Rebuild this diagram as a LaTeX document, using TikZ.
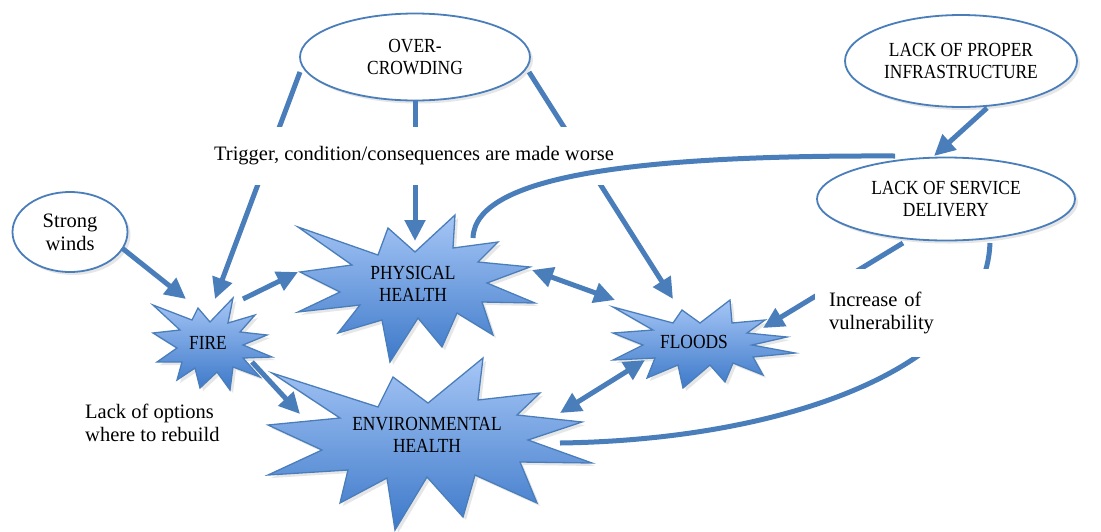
\documentclass[tikz,border=0pt]{standalone}
\usepackage{fontspec}
\setmainfont{Liberation Serif}
\newfontfamily\capsfont[FakeStretch=0.87]{Liberation Serif}
\usetikzlibrary{arrows.meta,shapes.geometric,shadows}

\definecolor{linkblue}{HTML}{4A7EBB}
\definecolor{burstlight}{HTML}{A6C6F6}
\definecolor{burstdark}{HTML}{3D79C9}

\tikzset{
  link/.style={draw=linkblue, line width=5pt},
  arrow/.style={link, -{Triangle[length=21pt,width=20pt]}},
  twoway/.style={link, {Triangle[length=21pt,width=20pt]}-{Triangle[length=21pt,width=20pt]}},
  softshadow/.style={drop shadow={opacity=0.2, shadow xshift=3pt, shadow yshift=-3pt}},
  cloud/.style={ellipse, draw=linkblue, line width=1.8pt, fill=white, softshadow,
                align=center, inner sep=0pt},
  capsfont/.style={font=\capsfont\fontsize{20}{22.5}\selectfont},
  burst/.style={draw=linkblue, line width=1.3pt, line join=miter,
                top color=burstlight, bottom color=burstdark, softshadow},
  caption/.style={align=center, inner sep=0pt, capsfont},
  note/.style={fill=white, inner sep=0pt}
}

\begin{document}
\begin{tikzpicture}[x=1pt, y=-1pt, font=\fontsize{20.5}{23}\selectfont]
  \useasboundingbox (0,0) rectangle (1101,531);

  % ---- bursts ----
  \path[burst] (298,227) -- (378,255) -- (388,228) -- (415,252) -- (455,215) -- (453,248)
     -- (498,242) -- (478,262) -- (530,267) -- (487,283) -- (535,303) -- (482,302)
     -- (493,335) -- (457,313) -- (442,347) -- (418,318) -- (390,362) -- (382,320)
     -- (338,333) -- (360,305) -- (298,312) -- (340,292) -- (300,272) -- (352,265) -- cycle;
  \path[burst] (272,373) -- (378,407) -- (393,377) -- (428,403) -- (483,358) -- (478,400)
     -- (540,393) -- (517,415) -- (582,422) -- (528,440) -- (592,463) -- (520,462)
     -- (537,503) -- (475,475) -- (463,517) -- (427,477) -- (395,530) -- (387,478)
     -- (340,503) -- (348,470) -- (268,475) -- (322,450) -- (268,425) -- (340,418) -- cycle;
  \path[burst] (153,305) -- (192,320) -- (198,308) -- (210,322) -- (233,298) -- (228,323)
     -- (255,315) -- (240,332) -- (267,335) -- (243,345) -- (272,357) -- (243,358)
     -- (260,377) -- (233,367) -- (230,390) -- (217,372) -- (200,388) -- (195,368)
     -- (177,380) -- (182,362) -- (157,362) -- (177,348) -- (153,333) -- (180,330) -- cycle;
  \path[burst] (613,307) -- (673,323) -- (682,310) -- (700,323) -- (730,300) -- (732,323)
     -- (765,320) -- (747,333) -- (787,337) -- (752,345) -- (795,353) -- (753,357)
     -- (763,375) -- (733,363) -- (725,382) -- (710,365) -- (683,388) -- (678,365)
     -- (647,378) -- (655,358) -- (613,360) -- (643,345) -- (613,333) -- (653,330) -- cycle;

  \node[caption] (fire)   at (208,343) {FIRE};
  \node[caption] (phys)   at (413,284) {PHYSICAL\\HEALTH};
  \node[caption] (env)    at (427,435) {ENVIRONMENTAL\\HEALTH};
  \node[caption] (floods) at (694,342) {FLOODS};

  % ---- ellipses ----
  \node[cloud, capsfont, minimum width=230pt, minimum height=87pt] (over)    at (415,57)  {OVER-\\CROWDING};
  \node[cloud, capsfont, minimum width=232pt, minimum height=92pt] (infra)   at (961,61)  {LACK OF PROPER\\INFRASTRUCTURE};
  \node[cloud, capsfont, minimum width=258pt, minimum height=83pt] (service) at (946,199) {LACK OF SERVICE\\DELIVERY};
  \node[cloud, minimum width=115pt, minimum height=80pt] (winds)   at (70,232)  {Strong\\winds};

  % ---- connector ends ----
  \coordinate (winds-out)   at (122,248);
  \coordinate (fire-in-w)   at (186,299);
  \coordinate (over-l)      at (300,72);
  \coordinate (fire-in-n)   at (215,299);
  \coordinate (over-m)      at (415,100);
  \coordinate (phys-in-n)   at (415,241);
  \coordinate (over-r)      at (529,72);
  \coordinate (floods-in-n) at (673,299);
  \coordinate (fire-out-ne) at (243,299);
  \coordinate (phys-in-w)   at (298,272);
  \coordinate (fire-out-se) at (252,362);
  \coordinate (env-in-nw)   at (300,414);
  \coordinate (phys-e)      at (532,270);
  \coordinate (floods-w)    at (615,300);
  \coordinate (env-ne)      at (560,413);
  \coordinate (floods-sw)   at (645,360);
  \coordinate (infra-out)   at (987,108);
  \coordinate (service-in)  at (934,156);
  \coordinate (service-out) at (903,243);
  \coordinate (floods-in-e) at (763,328);
  \coordinate (phys-top)    at (473,238);
  \coordinate (service-nw)  at (895,156);
  \coordinate (env-e)       at (560,443);
  \coordinate (service-s)   at (990,243);

  % ---- connectors ----
  \draw[arrow]  (winds-out)   -- (fire-in-w);
  \draw[arrow]  (over-l)      -- (fire-in-n);
  \draw[arrow]  (over-m)      -- (phys-in-n);
  \draw[arrow]  (over-r)      -- (floods-in-n);
  \draw[arrow]  (fire-out-ne) -- (phys-in-w);
  \draw[arrow]  (fire-out-se) -- (env-in-nw);
  \draw[twoway] (phys-e)      -- (floods-w);
  \draw[twoway] (env-ne)      -- (floods-sw);
  \draw[arrow]  (infra-out)   -- (service-in);
  \draw[arrow]  (service-out) -- (floods-in-e);
  \draw[link]   (env-e) .. controls (780,440) and (985,370) .. (service-s);

  % ---- text boxes ----
  \node[note, inner xsep=4pt, minimum height=58pt] (trigger) at (414,156)
    {Trigger, condition/consequences are made worse};
  \node[note, align=left, anchor=north west, minimum width=185pt, minimum height=88pt,
        text width=163pt, inner xsep=14pt] (vuln) at (815,269)
    {Increase of\\vulnerability};
  \node[align=left, anchor=west, inner sep=0pt] (rebuild) at (85,423)
    {Lack of options\\where to rebuild};

  % ---- long arc over the text box ----
  \draw[link]   (phys-top) .. controls (475,175) and (640,155) .. (service-nw);
\end{tikzpicture}
\end{document}
